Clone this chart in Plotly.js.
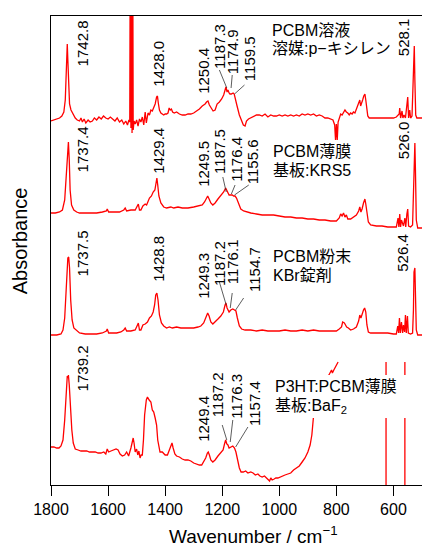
<!DOCTYPE html>
<html><head><meta charset="utf-8">
<script src="https://cdn.plot.ly/plotly-3.0.1.min.js"></script>
<style>html,body{margin:0;padding:0;background:#fff}#chart{width:422px;height:547px}</style>
</head><body><div id="chart"></div>
<script>
// Spectrum 1: PCBM solution (p-xylene)
const wn1 = [1800,1790,1780,1770,1762,1755,1750,1747,1745,1743,1741,1738,1735,1730,1722,1715,1708,1700,1695,1690,1684,1678,1670,1663,1655,1648,1640,1632,1624,1616,1608,1600,1592,1584,1576,1568,1560,1552,1545,1538,1532,1527,1524,1522,1520,1518,1516,1514,1512,1509,1505,1500,1495,1490,1485,1480,1475,1470,1466,1460,1455,1450,1445,1440,1435,1430,1427,1424,1420,1415,1410,1405,1400,1395,1390,1386,1382,1378,1374,1368,1360,1350,1340,1330,1320,1310,1300,1290,1280,1270,1260,1255,1250,1245,1238,1232,1225,1218,1210,1202,1195,1190,1187,1183,1180,1176,1173,1168,1162,1158,1154,1148,1140,1132,1126,1120,1115,1108,1100,1090,1080,1070,1060,1050,1040,1030,1020,1010,1000,990,980,970,960,950,940,930,920,910,900,890,880,870,860,850,840,830,820,812,806,803,800,797,794,790,785,780,775,770,765,760,755,750,745,740,735,728,722,718,715,712,708,704,700,697,694,690,685,680,660,640,620,600,590,580,578,575,570,567,563,558,553,550,547,543,540,535,532,529,527,525,522,518,510,500];
const abs1 = [364,365,366,367,369,373,385,415,440,441,425,395,381,375,370,367,365,364,367,363,366,362,365,363,364,367,365,368,366,369,367,366,368,366,364,367,363,365,361,364,360,365,363,585,357,585,352,585,355,364,361,365,359,366,363,368,360,373,362,372,370,375,374,377,381,388,389,382,375,372,371,370,371,371,372,377,375,376,373,372,373,371,370,370,371,371,372,374,376,379,381,383,384,380,376,374,375,381,383,386,390,397,398,393,395,392,391,391,392,391,387,379,370,363,360,359,364,366,367,369,370,370,369,371,368,370,369,369,370,369,370,369,370,369,370,369,371,370,371,370,371,369,370,369,367,367,366,365,360,345,361,345,363,368,371,370,373,375,373,372,370,372,371,373,372,377,381,385,379,383,385,389,391,385,375,369,367,367,367,367,367,367,368,371,377,367,374,367,370,367,380,388,367,375,367,369,395,435,439,405,370,367,367,367];

// Spectrum 2: PCBM film on KRS5
const wn2 = [1800,1785,1770,1760,1752,1746,1742,1739,1736,1733,1728,1720,1710,1700,1680,1660,1640,1620,1606,1603,1598,1580,1560,1545,1540,1535,1520,1505,1497,1494,1490,1485,1478,1470,1465,1455,1448,1442,1436,1432,1429,1426,1422,1415,1405,1395,1380,1370,1355,1340,1320,1300,1285,1270,1262,1255,1251,1246,1240,1233,1225,1215,1205,1195,1188,1184,1180,1176,1170,1165,1160,1155,1150,1143,1135,1125,1115,1100,1080,1060,1040,1020,1000,980,960,940,920,900,880,860,840,820,800,790,785,780,775,770,765,760,750,740,730,722,718,714,710,705,700,697,693,688,680,660,640,620,600,590,584,581,578,575,572,565,560,557,553,550,547,540,533,530,527,525,523,520,515,500];
const abs2 = [272,272,273,275,285,315,340,343,325,295,280,275,273,272,272,272,272,273,274,276,273,273,273,275,277,274,275,275,280,281,275,275,279,281,280,287,289,293,295,305,307,300,289,282,278,277,278,277,278,277,277,278,279,280,283,287,289,286,282,280,282,286,289,293,297,294,293,290,290,290,289,289,287,281,276,274,273,272,271,270,270,270,269,268,268,267,267,266,266,265,265,264,264,267,271,269,272,268,270,266,266,268,270,274,278,273,276,282,286,281,270,263,260,259,259,258,258,258,267,258,271,258,265,259,267,258,271,276,259,258,260,305,340,342,315,265,257,257];

// Spectrum 3: PCBM powder, KBr pellet
const wn3 = [1800,1780,1765,1758,1752,1746,1741,1738,1735,1731,1726,1720,1710,1700,1680,1660,1640,1620,1606,1603,1598,1585,1570,1555,1545,1540,1535,1520,1505,1497,1494,1490,1485,1478,1470,1462,1455,1448,1442,1437,1433,1429,1425,1420,1413,1405,1395,1385,1375,1360,1345,1330,1315,1300,1285,1275,1265,1258,1251,1246,1240,1233,1225,1215,1205,1196,1190,1187,1183,1179,1176,1170,1163,1157,1152,1147,1140,1132,1120,1100,1080,1060,1040,1020,1000,980,960,940,920,900,880,860,840,820,800,790,782,778,772,768,764,758,750,740,730,722,718,714,710,705,701,697,693,688,680,660,640,620,600,590,585,582,579,576,572,568,565,561,558,555,551,548,540,533,530,528,525,523,520,515,500];
const abs3 = [150,150,151,155,167,200,227,228,217,185,165,157,154,152,151,151,151,152,154,156,152,152,152,153,155,157,154,154,155,160,162,155,155,160,161,163,167,169,173,180,190,192,185,170,162,159,157,158,157,158,157,157,157,157,158,159,162,167,172,169,163,161,163,166,169,173,180,182,177,175,173,175,176,175,174,167,159,156,155,155,154,155,154,154,154,155,154,154,155,154,155,154,154,154,154,156,158,163,162,160,158,157,155,156,158,164,170,167,171,175,177,173,160,153,152,152,152,152,151,151,159,152,167,152,163,152,160,153,170,152,169,152,151,152,175,213,217,195,155,150,150];

// Spectrum 4: P3HT:PCBM film on BaF2 (null = saturated / off scale)
const wn4 = [1800,1790,1780,1772,1765,1758,1752,1747,1743,1741,1739,1736,1732,1727,1722,1715,1705,1695,1685,1675,1665,1655,1645,1635,1625,1615,1608,1603,1598,1590,1580,1572,1565,1558,1550,1542,1535,1528,1520,1515,1512,1509,1505,1500,1496,1492,1488,1484,1480,1476,1472,1466,1462,1456,1450,1445,1440,1435,1430,1426,1422,1418,1410,1400,1392,1385,1380,1376,1372,1366,1360,1350,1340,1330,1320,1310,1300,1290,1280,1272,1265,1258,1252,1249,1245,1240,1233,1225,1215,1205,1197,1192,1188,1184,1180,1176,1170,1163,1157,1152,1146,1140,1134,1126,1118,1110,1100,1092,1084,1075,1068,1060,1052,1045,1038,1034,1030,1025,1018,1012,1005,998,990,980,970,960,950,940,930,920,910,900,892,886,882,879,875,870,860,850,840,832,826,817,814,809,800,794,null,626,626,null,560,560];
const abs4 = [38,38,37,37,39,45,65,95,109,107,110,100,75,55,42,36,35,34,34,34,33,33,33,32,32,33,31,36,33,34,35,36,35,31,29,30,33,29,37,45,47,42,33,36,30,34,27,30,30,45,70,85,88,85,83,75,73,67,60,45,37,33,33,30,30,35,40,42,37,31,29,28,26,25,25,24,22,21,20,20,23,27,32,33,30,25,23,25,29,32,35,41,45,41,40,37,38,39,37,33,25,17,13,13,14,12,13,12,10,11,9,8,9,7,6,4,7,5,6,7,7,8,9,10,11,12,15,17,19,23,27,33,40,50,63,73,85,93,100,103,105,108,110,115,112,115,120,123,null,123,-40,null,123,-40];

// Peak labels
const peakText = ['1742.8','1428.0','1250.4','1187.3','1174.9','1159.5','528.1',
                  '1737.4','1429.4','1249.5','1187.5','1176.4','1155.6','526.0',
                  '1737.5','1428.8','1249.3','1187.2','1176.1','1154.7','526.4',
                  '1739.2','1249.4','1187.2','1176.3','1157.4'];
const peakLabelX = [1690,1426,1268,1210,1163,1104,566,
                    1690,1426,1268,1210,1151,1093,566,
                    1690,1426,1268,1210,1163,1087,571,
                    1690,1268,1216,1151,1087];
const peakLabelY = [418,397,390,415,410,403,428,
                    312,310,297,310,302,300,325,
                    208,202,185,198,200,192,212,
                    93,42,67,65,58];

// Leader lines from label to peak
const leadX0 = [1210,1165,1122, 1198,1155,1107, 1210,1165,1125, 1200,1163,1110];
const leadY0 = [415,410,400, 308,300,300, 203,192,187, 60,65,58];
const leadX1 = [1184,1169,1157, 1186,1168,1157, 1186,1172,1153, 1184,1172,1153];
const leadY1 = [397,397,391, 293,291,290, 180,177,175, 45,43,38];

// Sample descriptions
const sampleLine1 = ['PCBM溶液','PCBM薄膜','PCBM粉末','P3HT:PCBM薄膜'];
const sampleLine2 = ['溶媒:p−キシレン','基板:KRS5','KBr錠剤','基板:BaF<sub>2</sub>'];
const sampleX = [1028,1025,1025,1019];
const sampleY1 = [455,334,229,99];
const sampleY2 = [437,315,210,79];

const xTicks = [1800,1600,1400,1200,1000,800,600];

const red = '#ff0000';
const traces = [[wn1,abs1],[wn2,abs2],[wn3,abs3],[wn4,abs4]].map(([x,y]) => ({
  x: x, y: y, type: 'scatter', mode: 'lines', connectgaps: false,
  line: {color: red, width: 1.3}, hoverinfo: 'skip', showlegend: false
}));

const numFont = {family: 'Liberation Sans, Arial, sans-serif', size: 15, color: '#000'};
const txtFont = {family: 'Liberation Sans, Noto Sans CJK JP, sans-serif', size: 16, color: '#000'};

const annotations = [];
peakText.forEach((t, i) => annotations.push({
  x: peakLabelX[i], y: peakLabelY[i], xref: 'x', yref: 'y', text: t,
  textangle: -90, showarrow: false, xanchor: 'center', yanchor: 'bottom',
  font: numFont, borderpad: 0
}));
sampleLine1.forEach((t, i) => {
  annotations.push({x: sampleX[i], y: sampleY1[i], xref: 'x', yref: 'y', text: t,
    showarrow: false, xanchor: 'left', yanchor: 'middle', font: txtFont, borderpad: 0});
  annotations.push({x: sampleX[i], y: sampleY2[i], xref: 'x', yref: 'y', text: sampleLine2[i],
    showarrow: false, xanchor: 'left', yanchor: 'middle', font: txtFont, borderpad: 0});
});
annotations.push({x: -0.083, y: 0.52, xref: 'paper', yref: 'paper', text: 'Absorbance',
  textangle: -90, showarrow: false, xanchor: 'center', yanchor: 'middle',
  font: {family: 'Liberation Sans, Arial, sans-serif', size: 20, color: '#000'}});
annotations.push({x: 0.545, y: -0.106, xref: 'paper', yref: 'paper',
  text: 'Wavenumber / cm<sup>−1</sup>', showarrow: false, xanchor: 'center', yanchor: 'middle',
  font: {family: 'Liberation Sans, Arial, sans-serif', size: 19, color: '#000'}});

const shapes = leadX0.map((x0, i) => ({
  type: 'line', xref: 'x', yref: 'y', x0: x0, y0: leadY0[i], x1: leadX1[i], y1: leadY1[i],
  line: {color: '#333', width: 0.8}, layer: 'above'
}));
// white backing behind the P3HT:PCBM description
shapes.push({type: 'rect', xref: 'x', yref: 'y', x0: 1020, x1: 547, y0: 67, y1: 110,
  fillcolor: '#fff', line: {width: 0}, layer: 'above'});

const layout = {
  width: 422, height: 547,
  margin: {l: 51, r: 0, t: 16, b: 62},
  paper_bgcolor: '#fff', plot_bgcolor: '#fff',
  showlegend: false,
  xaxis: {
    range: [1800, 500], tickvals: xTicks, ticktext: xTicks.map(String),
    ticks: 'outside', ticklen: 10, tickwidth: 1, tickcolor: '#000',
    showline: true, linecolor: '#000', linewidth: 1, mirror: true,
    showgrid: false, zeroline: false,
    tickfont: {family: 'Liberation Sans, Arial, sans-serif', size: 16, color: '#000'}
  },
  yaxis: {
    range: [0, 469], showticklabels: false, ticks: '',
    showline: true, linecolor: '#000', linewidth: 1, mirror: true,
    showgrid: false, zeroline: false
  },
  annotations: annotations,
  shapes: shapes
};

Plotly.newPlot('chart', traces, layout, {staticPlot: true, displayModeBar: false});
</script></body></html>
